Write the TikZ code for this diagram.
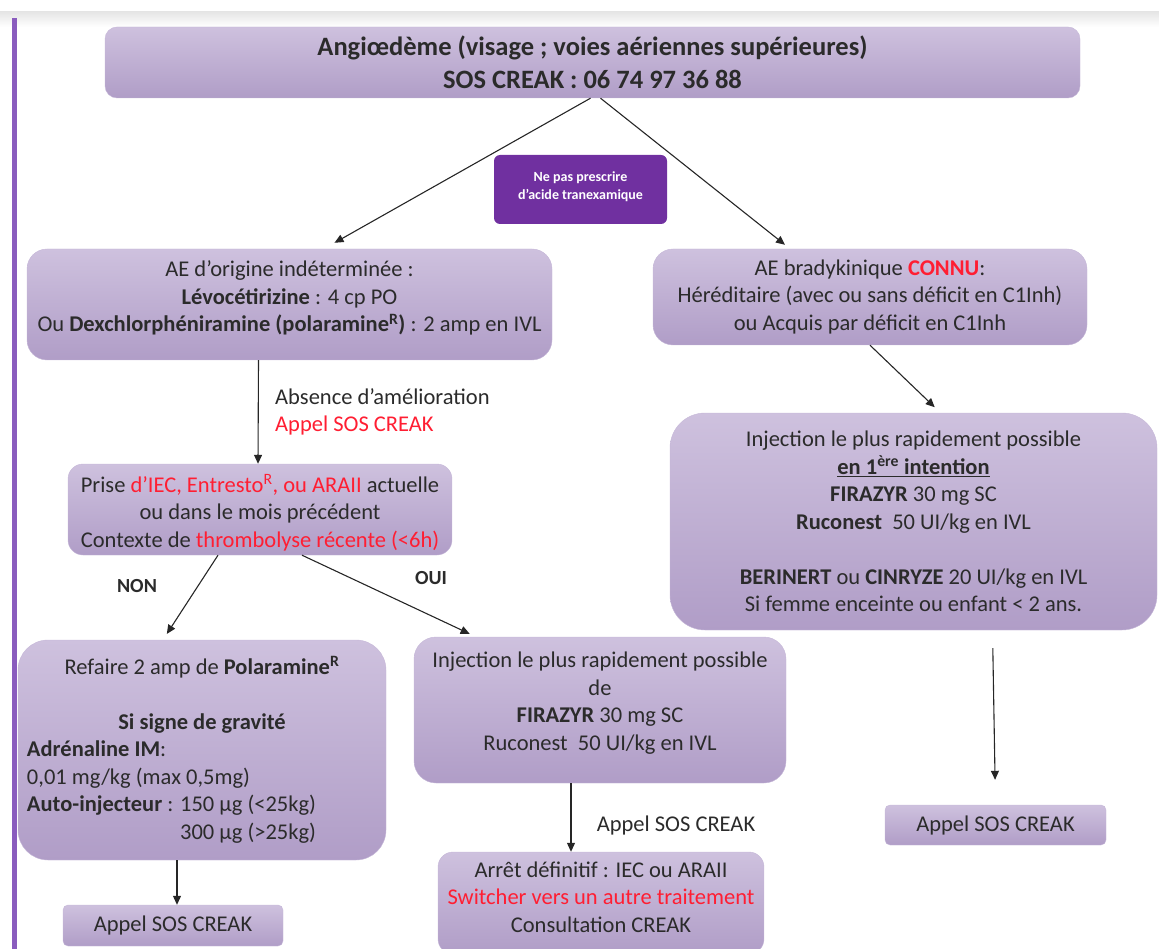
\documentclass[tikz,border=0pt]{standalone}
\usepackage{fontspec}
\setmainfont{Carlito}
\usetikzlibrary{arrows.meta}
\definecolor{boxtop}{HTML}{CEC1DE}
\definecolor{boxbot}{HTML}{B09DC7}
\definecolor{boxline}{HTML}{C6B8D8}
\definecolor{warnpurple}{HTML}{7030A0}
\definecolor{barpurple}{HTML}{8A5CBE}
\definecolor{alert}{HTML}{FF1E32}
\definecolor{ink}{HTML}{2B2B2B}
\newcommand{\txtsize}{\fontsize{22.5}{27.5}\selectfont}
\newcommand{\alrt}[1]{\textcolor{alert}{#1}}
\newcommand{\lift}[1]{\rule[-#1]{0pt}{0pt}}
\tikzset{
  box/.style={draw=boxline, top color=boxtop, bottom color=boxbot,
    rounded corners=#1, align=center, text=ink, inner sep=0pt, font=\txtsize},
  box/.default=15pt,
  warn/.style={fill=warnpurple, rounded corners=6pt, align=center, text=white,
    inner sep=0pt, font=\fontsize{14}{18}\selectfont\bfseries},
  arr/.style={-{Triangle[width=8pt,length=9pt]}, line width=1.1pt, black!85},
  lbl/.style={text=ink, font=\txtsize, inner sep=0pt}
}
\begin{document}
\begin{tikzpicture}[x=1pt,y=-1pt]
\useasboundingbox (0,0) rectangle (1159,949);
% page decoration
\shade[top color=gray!20, bottom color=white] (0,12) rectangle (1159,27);
\fill[barpurple] (12,18) rectangle (17,949);

% boxes
\node[box=12pt, minimum width=975pt, minimum height=71pt,
  font=\fontsize{26.5}{33}\selectfont\bfseries] (title) at (592.5,62.5)
  {Angiœdème (visage ; voies aériennes supérieures)\\SOS CREAK : 06 74 97 36 88};
\node[warn, minimum width=173pt, minimum height=69pt] (warning) at (580.5,189.5)
  {Ne pas prescrire\\d’acide tranexamique\lift{8pt}};
\node[box=20pt, minimum width=525pt, minimum height=111pt] (aeleft) at (289.5,304.5)
  {AE d’origine indéterminée :\\
   \textbf{Lévocétirizine} : 4 cp PO\\
   Ou \textbf{Dexchlorphéniramine (polaramine\textsuperscript{R})} : 2 amp en IVL\lift{16pt}};
\node[box=20pt, minimum width=434pt, minimum height=96pt] (aeright) at (870,297)
  {AE bradykinique \alrt{\textbf{CONNU}}:\\
   Héréditaire (avec ou sans déficit en C1Inh)\\
   ou Acquis par déficit en C1Inh};
\node[box=15pt, minimum width=384pt, minimum height=91pt] (prise) at (260,509.5)
  {\rule{0pt}{24pt}Prise \alrt{d’IEC, Entresto\textsuperscript{R}, ou ARAII} actuelle\\
   ou dans le mois précédent\\
   Contexte de \alrt{thrombolyse récente (<6h)}};
\node[box=35pt, minimum width=487pt, minimum height=217pt] (injright) at (913.5,521.5)
  {Injection le plus rapidement possible\\
   \underline{\textbf{en 1\textsuperscript{ère} intention}}\\
   \textbf{FIRAZYR} 30 mg SC\\
   \textbf{Ruconest}~~50 UI/kg en IVL\\
   ~\\
   \textbf{BERINERT} ou \textbf{CINRYZE} 20 UI/kg en IVL\\
   Si femme enceinte ou enfant < 2 ans.};
\node[box=30pt, minimum width=368pt, minimum height=220pt] (refaire) at (202,750)
  {Refaire 2 amp de \textbf{Polaramine\textsuperscript{R}}\\
   ~\\
   \textbf{Si signe de gravité}\\
   \makebox[350pt][l]{\textbf{Adrénaline IM}:}\\
   \makebox[350pt][l]{0,01 mg/kg (max 0,5mg)}\\
   \makebox[350pt][l]{\textbf{Auto-injecteur} : 150 µg (<25kg)}\\
   \makebox[350pt][l]{\phantom{\textbf{Auto-injecteur} : }300 µg (>25kg)}};
\node[box=22pt, minimum width=372pt, minimum height=146pt] (injmid) at (600,710)
  {Injection le plus rapidement possible\\
   de\\
   \textbf{FIRAZYR} 30 mg SC\\
   Ruconest~~50 UI/kg en IVL\lift{18pt}};
\node[box=15pt, minimum width=326pt, minimum height=102pt] (arret) at (601,903)
  {Arrêt définitif : IEC ou ARAII\\
   \alrt{Switcher vers un autre traitement}\\
   Consultation CREAK\lift{12pt}};
\node[box=5pt, minimum width=220pt, minimum height=41pt] (appelleft) at (173,925.5)
  {Appel SOS CREAK};
\node[box=5pt, minimum width=221pt, minimum height=40pt] (appelright) at (995.5,825)
  {Appel SOS CREAK};

% labels
\node[lbl, anchor=north west, align=left] (absence) at (275,388)
  {Absence d’amélioration\\\alrt{Appel SOS CREAK}};
\node[lbl, font=\fontsize{20}{24}\selectfont\bfseries] (non) at (137,586) {NON};
\node[lbl, font=\fontsize{20}{24}\selectfont\bfseries] (oui) at (431,578) {OUI};
\node[lbl] (appelmid) at (676,825) {Appel SOS CREAK};

% arrows
\draw[arr] ([xshift=-2pt]title.south) -- ([xshift=45pt,yshift=6pt]aeleft.north);
\draw[arr] ([xshift=8pt]title.south) -- ([xshift=-85pt,yshift=4pt]aeright.north);
\draw[arr] ([xshift=-31pt]aeleft.south) -- ([xshift=-2pt]prise.north);
\draw[arr, shorten >=8pt] (aeright.south) -- ([xshift=27pt]injright.north);
\draw[arr, shorten >=7pt] ([xshift=-42pt]prise.south) -- ([xshift=-39pt]refaire.north);
\draw[arr, shorten >=7pt] ([xshift=42pt]prise.south) -- ([xshift=-124pt]injmid.north);
\draw[arr] ([xshift=-25pt]refaire.south) -- ([xshift=4pt]appelleft.north);
\draw[arr] ([xshift=-29pt]injmid.south) -- ([xshift=-30pt]arret.north);
\draw[arr, shorten <=18pt, shorten >=25pt] ([xshift=79pt]injright.south) -- (appelright.north);
\end{tikzpicture}
\end{document}
